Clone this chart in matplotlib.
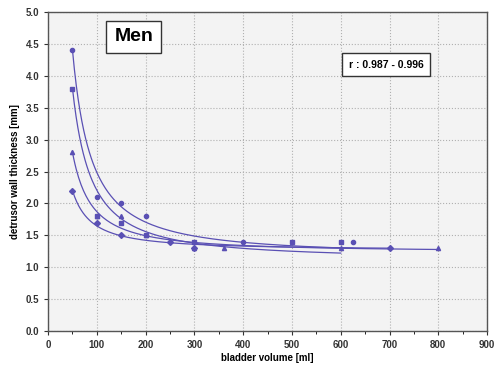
import numpy as np
import matplotlib.pyplot as plt
from matplotlib.ticker import MultipleLocator, FormatStrFormatter

plt.rcParams['font.family'] = ['Liberation Sans', 'DejaVu Sans']

# four measurement series (bladder volume in ml, wall thickness in mm)
vol_1 = [50, 100, 150, 200, 400, 625]
thk_1 = [4.4, 2.1, 2.0, 1.8, 1.4, 1.4]
vol_2 = [50, 100, 150, 200, 300, 500, 600]
thk_2 = [3.8, 1.8, 1.7, 1.5, 1.4, 1.4, 1.4]
vol_3 = [50, 100, 150, 200, 300, 360, 600, 800]
thk_3 = [2.8, 1.8, 1.8, 1.5, 1.3, 1.3, 1.3, 1.3]
vol_4 = [50, 100, 150, 250, 300, 700]
thk_4 = [2.2, 1.7, 1.5, 1.4, 1.3, 1.3]
series = [(vol_1, thk_1, 'o'), (vol_2, thk_2, 's'),
          (vol_3, thk_3, '^'), (vol_4, thk_4, 'D')]

col = '#5a50b4'

fig = plt.figure(figsize=(4.96, 3.77), dpi=100)
ax = fig.add_axes([0.097, 0.122, 0.885, 0.846])
ax.set_facecolor('#f3f3f3')

p = 1.3
for v, t, m in series:
    v = np.array(v, float)
    t = np.array(t, float)
    # fit y = c + b * x^-p, forced through the first point
    f = v ** -p - v[0] ** -p
    d = t - t[0]
    b = (f * d).sum() / (f * f).sum()
    xs = np.linspace(v.min(), v.max(), 300)
    ax.plot(xs, t[0] + b * (xs ** -p - v[0] ** -p), color=col, lw=0.9)
    ax.plot(v, t, m, color=col, ms=3, ls='none')

ax.set_xlim(0, 900)
ax.set_ylim(0, 5)
ax.xaxis.set_major_locator(MultipleLocator(100))
ax.xaxis.set_minor_locator(MultipleLocator(50))
ax.yaxis.set_major_locator(MultipleLocator(0.5))
ax.yaxis.set_major_formatter(FormatStrFormatter('%.1f'))
ax.grid(True, which='major', color='#b0b0b0', ls=':', lw=0.8)
ax.tick_params(labelsize=7, direction='out', length=3, width=0.8, colors='#333333')
ax.tick_params(which='minor', length=2)
for lab in ax.get_xticklabels() + ax.get_yticklabels():
    lab.set_fontweight('bold')
for s in ax.spines.values():
    s.set_color('#555555')
    s.set_linewidth(1.0)

ax.set_xlabel('bladder volume [ml]', fontsize=7, fontweight='bold', labelpad=2)
ax.set_ylabel('detrusor wall thickness [mm]', fontsize=7, fontweight='bold', labelpad=4)

ax.text(0.195, 0.922, 'Men', transform=ax.transAxes, fontsize=14, fontweight='bold',
        va='center', ha='center',
        bbox=dict(boxstyle='square,pad=0.4', fc='white', ec='#333333', lw=1))
ax.text(0.77, 0.835, 'r : 0.987 - 0.996', transform=ax.transAxes, fontsize=7.5,
        fontweight='bold', va='center', ha='center',
        bbox=dict(boxstyle='square,pad=0.6', fc='white', ec='#333333', lw=1))

fig.savefig('out.png', dpi=100)
